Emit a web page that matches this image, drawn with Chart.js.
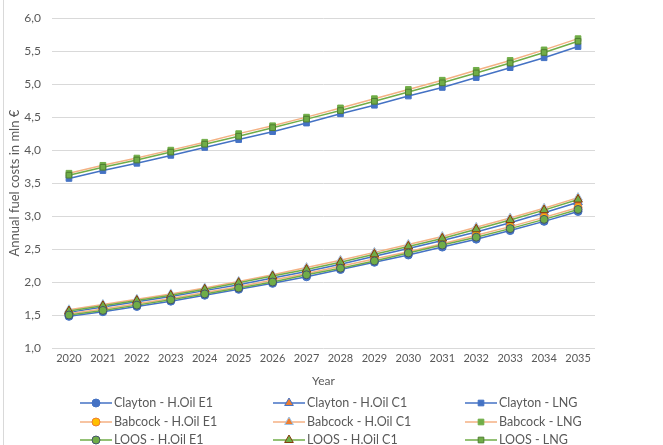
<!DOCTYPE html>
<html>
<head>
<meta charset="utf-8">
<script src="https://cdn.jsdelivr.net/npm/chart.js@4/dist/chart.umd.min.js"></script>
<style>
  html, body { margin: 0; padding: 0; background: #fff; }
  #wrap { width: 663px; height: 445px; position: relative; }
</style>
</head>
<body>
<div id="wrap"><canvas id="c" width="663" height="445"></canvas></div>
<script>
// Annual fuel costs (mln €) per ship and fuel option, 2020–2035
const years = ['2020','2021','2022','2023','2024','2025','2026','2027','2028','2029','2030','2031','2032','2033','2034','2035'];

const claytonE1  = [1.48,1.55,1.63,1.71,1.80,1.89,1.98,2.08,2.19,2.30,2.41,2.53,2.65,2.78,2.92,3.07];
const claytonC1  = [1.54,1.62,1.70,1.78,1.87,1.96,2.06,2.16,2.27,2.39,2.51,2.63,2.76,2.90,3.05,3.21];
const claytonLNG = [3.57,3.69,3.80,3.92,4.04,4.16,4.28,4.41,4.55,4.68,4.82,4.95,5.10,5.25,5.40,5.57];

const babcockE1  = [1.52,1.59,1.67,1.75,1.84,1.93,2.03,2.13,2.24,2.35,2.46,2.58,2.71,2.84,2.98,3.13];
const babcockC1  = [1.58,1.66,1.74,1.82,1.91,2.01,2.11,2.22,2.33,2.45,2.57,2.69,2.83,2.97,3.12,3.28];
const babcockLNG = [3.65,3.77,3.88,4.00,4.12,4.25,4.37,4.50,4.64,4.78,4.92,5.06,5.21,5.36,5.52,5.69];

const loosE1  = [1.50,1.57,1.65,1.73,1.82,1.91,2.00,2.11,2.21,2.32,2.44,2.56,2.68,2.81,2.95,3.10];
const loosC1  = [1.56,1.64,1.72,1.80,1.89,1.99,2.09,2.19,2.30,2.42,2.54,2.66,2.80,2.94,3.09,3.25];
const loosLNG = [3.62,3.74,3.85,3.97,4.09,4.21,4.34,4.47,4.60,4.74,4.88,5.02,5.17,5.32,5.48,5.65];

const FONT = 'Lato, "Open Sans", sans-serif';
const TXT = '#595959';

const BLUE = '#4472C4', ORANGE = '#F4B183', GREEN = '#70AD47';

function series(label, data, line, style, fill, edge, radius, order) {
  return {
    label, data, order,
    borderColor: line, borderWidth: 1.5,
    pointStyle: style, pointRadius: radius, pointHoverRadius: radius,
    pointBackgroundColor: fill, pointBorderColor: edge, pointBorderWidth: 1,
    backgroundColor: fill, tension: 0, fill: false
  };
}

const datasets = [
  series('Clayton - H.Oil E1', claytonE1,  BLUE,   'circle',   BLUE,      BLUE,      4,   3),
  series('Clayton - H.Oil C1', claytonC1,  BLUE,   'triangle', '#ED7D31', BLUE,      5,   3),
  series('Clayton - LNG',      claytonLNG, BLUE,   'rect',     BLUE,      BLUE,      4,   3),
  series('Babcock - H.Oil E1', babcockE1,  ORANGE, 'circle',   '#FFC000', '#ED7D31', 4,   2),
  series('Babcock - H.Oil C1', babcockC1,  ORANGE, 'triangle', '#ED7D31', '#9DC3E6', 5,   2),
  series('Babcock - LNG',      babcockLNG, ORANGE, 'rect',     GREEN,     GREEN,     4,   2),
  series('LOOS - H.Oil E1',    loosE1,     GREEN,  'circle',   GREEN,     '#44546A', 4,   1),
  series('LOOS - H.Oil C1',    loosC1,     GREEN,  'triangle', GREEN,     '#843C0C', 5,   1),
  series('LOOS - LNG',         loosLNG,    GREEN,  'rect',     GREEN,     '#507E32', 4,   1)
];

// Legend laid out as a fixed 3x3 grid under the axis title
const gridLegend = {
  id: 'gridLegend',
  afterDraw(chart) {
    const ctx = chart.ctx;
    const cols = [96, 289, 481];
    const rows = [403, 422, 440];
    chart.data.datasets.forEach((ds, i) => {
      const cx = cols[i % 3], cy = rows[Math.floor(i / 3)];
      ctx.save();
      ctx.strokeStyle = ds.borderColor;
      ctx.lineWidth = 1.5;
      ctx.beginPath();
      ctx.moveTo(cx - 16, cy);
      ctx.lineTo(cx + 16, cy);
      ctx.stroke();
      ctx.fillStyle = ds.pointBackgroundColor;
      ctx.strokeStyle = ds.pointBorderColor;
      ctx.lineWidth = 1;
      Chart.helpers.drawPoint(ctx, { pointStyle: ds.pointStyle, radius: ds.pointRadius, borderWidth: 1, rotation: 0 }, cx, cy);
      ctx.fillStyle = TXT;
      ctx.font = '12.5px ' + FONT;
      ctx.textBaseline = 'middle';
      ctx.textAlign = 'left';
      ctx.fillText(ds.label, cx + 18, cy);
      ctx.restore();
    });
  }
};

// White background and the chart-area frame on the left
const frame = {
  id: 'frame',
  beforeDraw(chart) {
    const ctx = chart.ctx;
    ctx.save();
    ctx.fillStyle = '#fff';
    ctx.fillRect(0, 0, chart.width, chart.height);
    ctx.strokeStyle = '#D9D9D9';
    ctx.lineWidth = 1;
    ctx.beginPath();
    ctx.moveTo(3.5, 0);
    ctx.lineTo(3.5, chart.height);
    ctx.stroke();
    ctx.restore();
  }
};

new Chart(document.getElementById('c'), {
  type: 'line',
  data: { labels: years, datasets },
  plugins: [frame, gridLegend],
  options: {
    responsive: false,
    animation: false,
    layout: { padding: { top: 18, right: 68, bottom: 53, left: 0 } },
    plugins: { legend: { display: false }, tooltip: { enabled: false } },
    scales: {
      x: {
        offset: true,
        grid: { display: false, drawTicks: false },
        border: { display: false },
        ticks: { color: TXT, font: { family: FONT, size: 11 }, padding: 4, maxRotation: 0, autoSkip: false },
        title: { display: true, text: 'Year', color: TXT, font: { family: FONT, size: 12 }, padding: { top: 4, bottom: 4 } },
        afterFit(s) { s.height = 44; }
      },
      y: {
        min: 1, max: 6,
        grid: { color: '#D9D9D9', lineWidth: 1, drawTicks: false },
        border: { display: false },
        ticks: {
          stepSize: 0.5, color: TXT, font: { family: FONT, size: 12 }, padding: 11,
          callback: v => v.toFixed(1).replace('.', ',')
        },
        title: { display: true, text: 'Annual fuel costs in mln €', color: TXT, font: { family: FONT, size: 13 }, padding: { top: 7, bottom: 0 } },
        afterFit(s) { s.width = 52; }
      }
    }
  }
});
</script>
</body>
</html>
